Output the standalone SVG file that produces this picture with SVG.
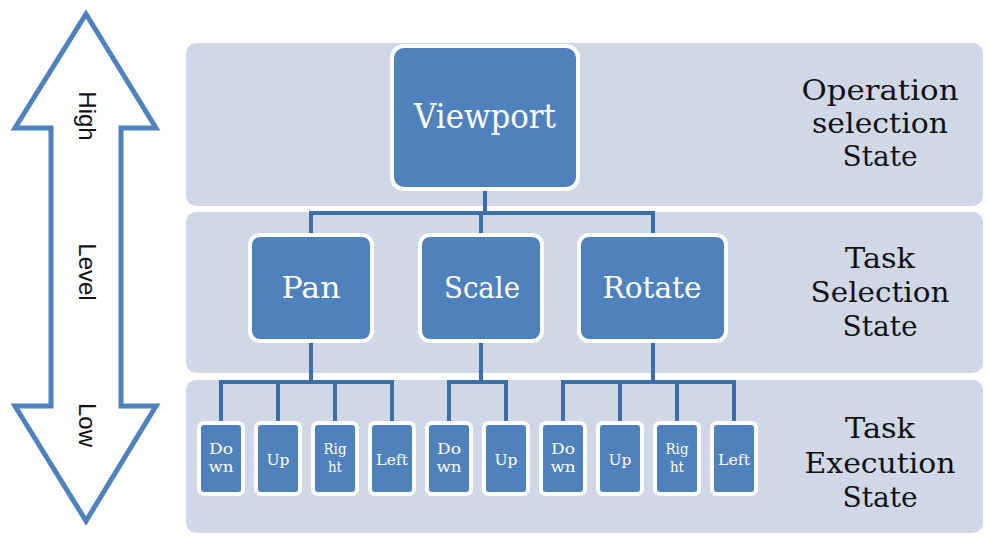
<svg xmlns="http://www.w3.org/2000/svg" width="989" height="536" viewBox="0 0 989 536">
  <defs>
    <style>
      .band { fill: #d0d8e8; }
      .node { fill: #4f81bd; stroke: #ffffff; stroke-width: 4; }
      .leaf { fill: #4f81bd; stroke: #ffffff; stroke-width: 4; }
      .ntext { font-family: "DejaVu Serif", "Liberation Serif", serif; fill: #ffffff; text-anchor: middle; }
      .ltext { font-family: "DejaVu Serif", "Liberation Serif", serif; fill: #ffffff; text-anchor: middle; font-size: 15px; }
      .state { font-family: "DejaVu Serif", "Liberation Serif", serif; fill: #111111; text-anchor: middle; font-size: 28px; }
      .level { font-family: "Liberation Sans", Arial, sans-serif; fill: #111111; text-anchor: middle; font-size: 24px; }
      .conn { fill: none; stroke: #3e6ea8; stroke-width: 4; }
    </style>
  </defs>
  <rect width="989" height="536" fill="#ffffff"/>

  <!-- level arrow -->
  <g id="level-arrow">
    <path d="M86,14 L156,128 L121,128 L121,406 L156,406 L86,521 L15,406 L51,406 L51,128 L15,128 Z" fill="#ffffff" stroke="#4f81bd" stroke-width="5" stroke-linejoin="miter"/>
    <text class="level" transform="translate(79,116) rotate(90)">High</text>
    <text class="level" transform="translate(79,272) rotate(90)">Level</text>
    <text class="level" transform="translate(79,425) rotate(90)">Low</text>
  </g>

  <!-- state bands -->
  <g id="band-operation">
    <rect class="band" x="186" y="43" width="797" height="163" rx="10"/>
    <text class="state" x="880" y="100" textLength="157" lengthAdjust="spacingAndGlyphs">Operation</text>
    <text class="state" x="880" y="133" textLength="136" lengthAdjust="spacingAndGlyphs">selection</text>
    <text class="state" x="880" y="166" textLength="75" lengthAdjust="spacingAndGlyphs">State</text>
  </g>
  <g id="band-task-selection">
    <rect class="band" x="186" y="212" width="797" height="161" rx="10"/>
    <text class="state" x="880" y="268" textLength="70" lengthAdjust="spacingAndGlyphs">Task</text>
    <text class="state" x="880" y="302" textLength="139" lengthAdjust="spacingAndGlyphs">Selection</text>
    <text class="state" x="880" y="336" textLength="75" lengthAdjust="spacingAndGlyphs">State</text>
  </g>
  <g id="band-task-execution">
    <rect class="band" x="186" y="380" width="797" height="153" rx="10"/>
    <text class="state" x="880" y="438" textLength="70" lengthAdjust="spacingAndGlyphs">Task</text>
    <text class="state" x="880" y="473" textLength="151" lengthAdjust="spacingAndGlyphs">Execution</text>
    <text class="state" x="880" y="507" textLength="75" lengthAdjust="spacingAndGlyphs">State</text>
  </g>

  <!-- connectors -->
  <g id="connectors">
    <path class="conn" d="M485,189 V213 M309,213 H655 M311,213 V236 M481,213 V236 M653,213 V236"/>
    <path class="conn" d="M311,340 V382 M219,382 H394 M221,382 V424 M278,382 V424 M335,382 V424 M392,382 V424"/>
    <path class="conn" d="M481,340 V382 M447,382 H508 M449,382 V424 M506,382 V424"/>
    <path class="conn" d="M653,340 V382 M561,382 H736 M563,382 V424 M620,382 V424 M677,382 V424 M734,382 V424"/>
  </g>

  <!-- operation node -->
  <g id="node-viewport">
    <rect class="node" x="392" y="46" width="186" height="143" rx="12"/>
    <text class="ntext" x="485" y="128" font-size="33" textLength="142" lengthAdjust="spacingAndGlyphs">Viewport</text>
  </g>

  <!-- task nodes -->
  <g id="node-pan">
    <rect class="node" x="250" y="235" width="122" height="106" rx="10"/>
    <text class="ntext" x="311" y="298" font-size="30" textLength="59" lengthAdjust="spacingAndGlyphs">Pan</text>
  </g>
  <g id="node-scale">
    <rect class="node" x="420" y="235" width="122" height="106" rx="10"/>
    <text class="ntext" x="482" y="298" font-size="30" textLength="76" lengthAdjust="spacingAndGlyphs">Scale</text>
  </g>
  <g id="node-rotate">
    <rect class="node" x="579" y="235" width="147" height="106" rx="10"/>
    <text class="ntext" x="652" y="298" font-size="30" textLength="99" lengthAdjust="spacingAndGlyphs">Rotate</text>
  </g>

  <!-- execution leaves: Pan -->
  <g id="pan-down">
    <rect class="leaf" x="199" y="423" width="44" height="71" rx="5"/>
    <text class="ltext" x="221" y="454" textLength="24" lengthAdjust="spacingAndGlyphs">Do</text>
    <text class="ltext" x="221" y="472" textLength="25" lengthAdjust="spacingAndGlyphs">wn</text>
  </g>
  <g id="pan-up">
    <rect class="leaf" x="256" y="423" width="44" height="71" rx="5"/>
    <text class="ltext" x="278" y="465" textLength="23" lengthAdjust="spacingAndGlyphs">Up</text>
  </g>
  <g id="pan-right">
    <rect class="leaf" x="313" y="423" width="44" height="71" rx="5"/>
    <text class="ltext" x="335" y="454" textLength="23" lengthAdjust="spacingAndGlyphs">Rig</text>
    <text class="ltext" x="335" y="472" textLength="14" lengthAdjust="spacingAndGlyphs">ht</text>
  </g>
  <g id="pan-left">
    <rect class="leaf" x="370" y="423" width="44" height="71" rx="5"/>
    <text class="ltext" x="392" y="465" textLength="32" lengthAdjust="spacingAndGlyphs">Left</text>
  </g>

  <!-- execution leaves: Scale -->
  <g id="scale-down">
    <rect class="leaf" x="427" y="423" width="44" height="71" rx="5"/>
    <text class="ltext" x="449" y="454" textLength="24" lengthAdjust="spacingAndGlyphs">Do</text>
    <text class="ltext" x="449" y="472" textLength="25" lengthAdjust="spacingAndGlyphs">wn</text>
  </g>
  <g id="scale-up">
    <rect class="leaf" x="484" y="423" width="44" height="71" rx="5"/>
    <text class="ltext" x="506" y="465" textLength="23" lengthAdjust="spacingAndGlyphs">Up</text>
  </g>

  <!-- execution leaves: Rotate -->
  <g id="rotate-down">
    <rect class="leaf" x="541" y="423" width="44" height="71" rx="5"/>
    <text class="ltext" x="563" y="454" textLength="24" lengthAdjust="spacingAndGlyphs">Do</text>
    <text class="ltext" x="563" y="472" textLength="25" lengthAdjust="spacingAndGlyphs">wn</text>
  </g>
  <g id="rotate-up">
    <rect class="leaf" x="598" y="423" width="44" height="71" rx="5"/>
    <text class="ltext" x="620" y="465" textLength="23" lengthAdjust="spacingAndGlyphs">Up</text>
  </g>
  <g id="rotate-right">
    <rect class="leaf" x="655" y="423" width="44" height="71" rx="5"/>
    <text class="ltext" x="677" y="454" textLength="23" lengthAdjust="spacingAndGlyphs">Rig</text>
    <text class="ltext" x="677" y="472" textLength="14" lengthAdjust="spacingAndGlyphs">ht</text>
  </g>
  <g id="rotate-left">
    <rect class="leaf" x="712" y="423" width="44" height="71" rx="5"/>
    <text class="ltext" x="734" y="465" textLength="32" lengthAdjust="spacingAndGlyphs">Left</text>
  </g>
</svg>
